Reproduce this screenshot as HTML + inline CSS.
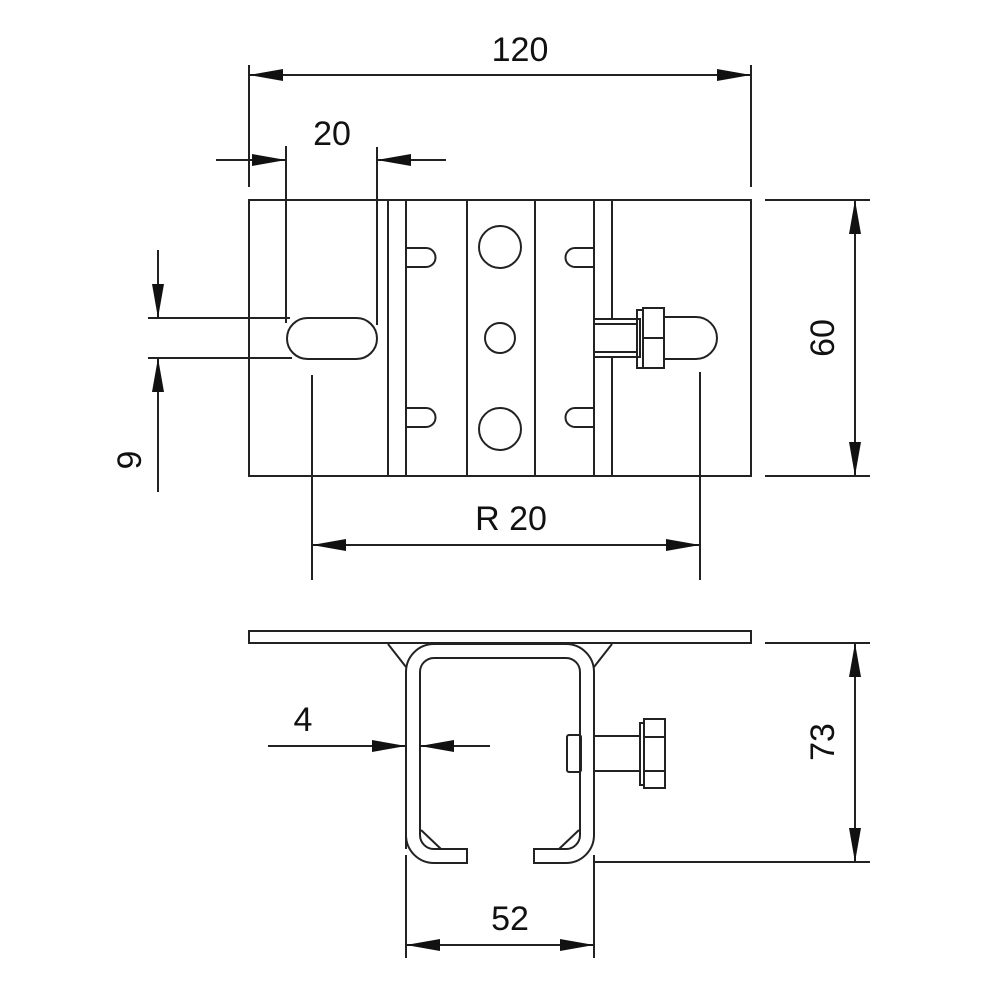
<!DOCTYPE html>
<html><head><meta charset="utf-8"><style>
html,body{margin:0;padding:0;background:#fff;}
svg{display:block;}
text{font-family:"Liberation Sans",Arial,sans-serif;font-size:34px;fill:#111;}
</style></head><body>
<svg width="1000" height="1000" viewBox="0 0 1000 1000" xmlns="http://www.w3.org/2000/svg">
<defs>
<marker id="a" viewBox="0 0 34 12" refX="34" refY="6" markerWidth="34" markerHeight="12" markerUnits="userSpaceOnUse" orient="auto-start-reverse">
<path d="M0,0 L34,6 L0,12 z" fill="#111"/>
</marker>
</defs>
<g stroke="#222" stroke-width="2" fill="none">
<rect x="249" y="200" width="502" height="276"/>
<line x1="388" y1="200" x2="388" y2="476"/>
<line x1="406" y1="200" x2="406" y2="476"/>
<line x1="467" y1="200" x2="467" y2="476"/>
<line x1="535" y1="200" x2="535" y2="476"/>
<line x1="594" y1="200" x2="594" y2="319"/>
<line x1="594" y1="357" x2="594" y2="476"/>
<line x1="612" y1="200" x2="612" y2="319"/>
<line x1="612" y1="357" x2="612" y2="476"/>
<circle cx="500" cy="247" r="21"/>
<circle cx="500" cy="338" r="15"/>
<circle cx="500" cy="429" r="21"/>
<path d="M406,248 H426 A9.5,9.5 0 0 1 426,267 H406"/>
<path d="M406,408 H426 A9.5,9.5 0 0 1 426,427 H406"/>
<path d="M594,248 H575 A9.5,9.5 0 0 0 575,267 H594"/>
<path d="M594,408 H575 A9.5,9.5 0 0 0 575,427 H594"/>
<rect x="287" y="318" width="90" height="41" rx="20.5"/>
<rect x="594" y="319" width="46" height="38"/>
<line x1="594" y1="324" x2="638" y2="324"/>
<line x1="594" y1="352" x2="638" y2="352"/>
<rect x="637" y="310" width="6" height="58"/>
<path d="M643,308 H664 V368 H643 z"/>
<line x1="643" y1="338" x2="664" y2="338"/>
<path d="M664,317 H696 A21,21 0 0 1 696,359 H664"/>
<line x1="249" y1="65" x2="249" y2="187"/>
<line x1="751" y1="65" x2="751" y2="187"/>
<line x1="249" y1="75" x2="751" y2="75" marker-start="url(#a)" marker-end="url(#a)"/>
<line x1="286" y1="146" x2="286" y2="323"/>
<line x1="377" y1="147" x2="377" y2="325"/>
<line x1="216" y1="160" x2="286" y2="160" marker-end="url(#a)"/>
<line x1="446" y1="160" x2="377" y2="160" marker-end="url(#a)"/>
<line x1="765" y1="200" x2="870" y2="200"/>
<line x1="765" y1="476" x2="870" y2="476"/>
<line x1="855" y1="200" x2="855" y2="476" marker-start="url(#a)" marker-end="url(#a)"/>
<line x1="148" y1="318" x2="290" y2="318"/>
<line x1="148" y1="358" x2="292" y2="358"/>
<line x1="158" y1="250" x2="158" y2="318" marker-end="url(#a)"/>
<line x1="158" y1="492" x2="158" y2="358" marker-end="url(#a)"/>
<line x1="312" y1="375" x2="312" y2="580"/>
<line x1="700" y1="372" x2="700" y2="580"/>
<line x1="312" y1="545" x2="700" y2="545" marker-start="url(#a)" marker-end="url(#a)"/>
<rect x="249" y="631" width="502" height="12"/>
<path d="M388,644 L406,667 M612,644 L594,667"/>
<path d="M406,849 V672 A28,28 0 0 1 434,644 H566 A28,28 0 0 1 594,672 V835 A28,28 0 0 1 566,863 H534 V849 H566 A14,14 0 0 0 580,835 V672 A14,14 0 0 0 566,658 H434 A14,14 0 0 0 420,672 V835 A14,14 0 0 0 434,849 H467 V863 H434 A28,28 0 0 1 406,835 Z"/>
<path d="M421,830 L441,849 M579,830 L559,849"/>
<rect x="567" y="735" width="14" height="37" rx="2"/>
<rect x="594" y="736" width="46" height="35"/>
<rect x="640" y="723" width="4" height="62"/>
<path d="M644,719 H665 V788 H644 z"/>
<line x1="644" y1="737" x2="665" y2="737"/>
<line x1="644" y1="771" x2="665" y2="771"/>
<line x1="268" y1="746" x2="406" y2="746" marker-end="url(#a)"/>
<line x1="490" y1="746" x2="420" y2="746" marker-end="url(#a)"/>
<line x1="765" y1="643" x2="870" y2="643"/>
<line x1="594" y1="862" x2="870" y2="862"/>
<line x1="855" y1="643" x2="855" y2="862" marker-start="url(#a)" marker-end="url(#a)"/>
<line x1="406" y1="855" x2="406" y2="958"/>
<line x1="594" y1="855" x2="594" y2="958"/>
<line x1="406" y1="945" x2="594" y2="945" marker-start="url(#a)" marker-end="url(#a)"/>
</g>
<g stroke="none">
<text x="520" y="61" text-anchor="middle">120</text>
<text x="332" y="145" text-anchor="middle">20</text>
<text x="511" y="530" text-anchor="middle">R 20</text>
<text x="303" y="731" text-anchor="middle">4</text>
<text x="510" y="930" text-anchor="middle">52</text>
<text transform="translate(834,338) rotate(-90)" text-anchor="middle">60</text>
<text transform="translate(141,460) rotate(-90)" text-anchor="middle">9</text>
<text transform="translate(834,742) rotate(-90)" text-anchor="middle">73</text>
</g>
</svg>
</body></html>
